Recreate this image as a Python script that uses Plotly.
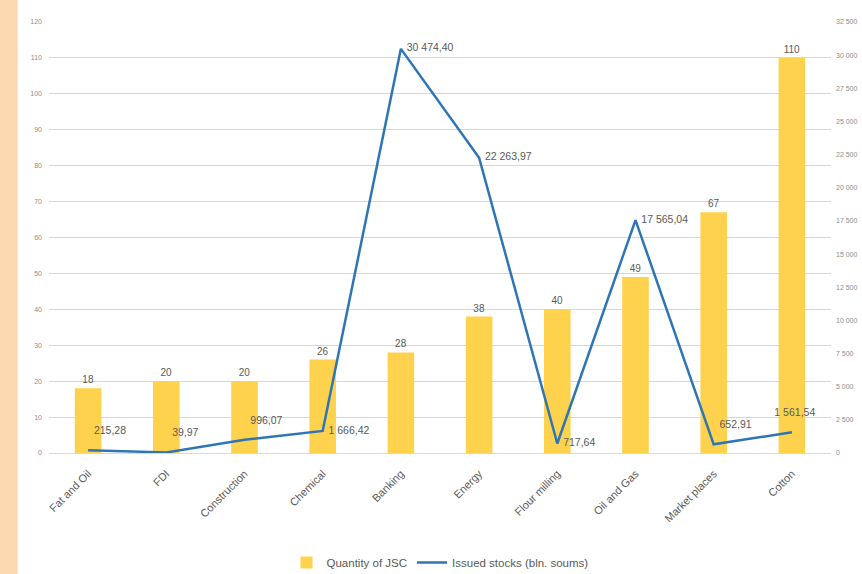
import plotly.graph_objects as go

categories = ["Fat and Oil", "FDI", "Construction", "Chemical", "Banking",
              "Energy", "Flour milling", "Oil and Gas", "Market places", "Cotton"]
jsc_quantity = [18, 20, 20, 26, 28, 38, 40, 49, 67, 110]
issued_stocks = [215.28, 39.97, 996.07, 1666.42, 30474.40, 22263.97,
                 717.64, 17565.04, 652.91, 1561.54]
label_positions = ["top right", "top right", "top right", "middle right", "middle right",
                   "middle right", "middle right", "middle right", "top right", "top center"]
label_raised = [True, True, True, False, False, False, False, False, True, True]

GRAY = "#595959"
FONT = "Liberation Sans"

line_templates = [("\u00a0\u00a0%{text:,.2f}<br> " if up else "\u00a0\u00a0%{text:,.2f}")
                  for up in label_raised]

fig = go.Figure()
fig.add_trace(go.Bar(
    x=categories, y=jsc_quantity, name="Quantity of JSC",
    marker=dict(color="#FFD24D", line=dict(width=0)),
    text=[str(v) for v in jsc_quantity], textposition="outside",
    textfont=dict(size=10, color=GRAY, family=FONT), cliponaxis=False,
))
fig.add_trace(go.Scatter(
    x=categories, y=issued_stocks, name="Issued stocks (bln. soums)", yaxis="y2",
    mode="lines+text", line=dict(color="#2E75B6", width=2.5),
    text=issued_stocks, texttemplate=line_templates, textposition=label_positions,
    textfont=dict(size=10.5, color=GRAY, family=FONT), cliponaxis=False,
))

fig.update_layout(
    width=862, height=574,
    margin=dict(l=49, r=31, t=22, b=121, autoexpand=False),
    paper_bgcolor="white", plot_bgcolor="white",
    separators=", ",
    font=dict(family=FONT, color=GRAY),
    bargap=0.66,
    showlegend=True,
    legend=dict(orientation="h", x=0.5, xanchor="center", yref="container", y=0.02,
                yanchor="middle",
                font=dict(size=11.5, color=GRAY, family=FONT), itemwidth=30),
    xaxis=dict(tickangle=-45, tickfont=dict(size=11, color=GRAY, family=FONT),
               showline=True, linecolor="#D9D9D9", linewidth=1, ticks="", automargin=False,
               ticklabelstandoff=9),
    yaxis=dict(range=[0, 120], dtick=10, showgrid=True, gridcolor="#E4D9A8", gridwidth=1,
               zeroline=False, tickfont=dict(size=7, color="#8C8C8C", family=FONT),
               ticklabelstandoff=6, automargin=False),
    yaxis2=dict(range=[0, 32500], dtick=2500, overlaying="y", side="right", showgrid=False,
                zeroline=False, tickformat=",", tickfont=dict(size=7, color="#8C8C8C", family=FONT),
                ticklabelstandoff=4, automargin=False),
    shapes=[dict(type="rect", xref="paper", yref="paper", x0=-0.0627, x1=-0.040,
                 y0=-0.29, y1=1.06, fillcolor="#F9CB94", line=dict(width=0), opacity=0.75,
                 layer="below")],
)

fig.write_html("out.html")
